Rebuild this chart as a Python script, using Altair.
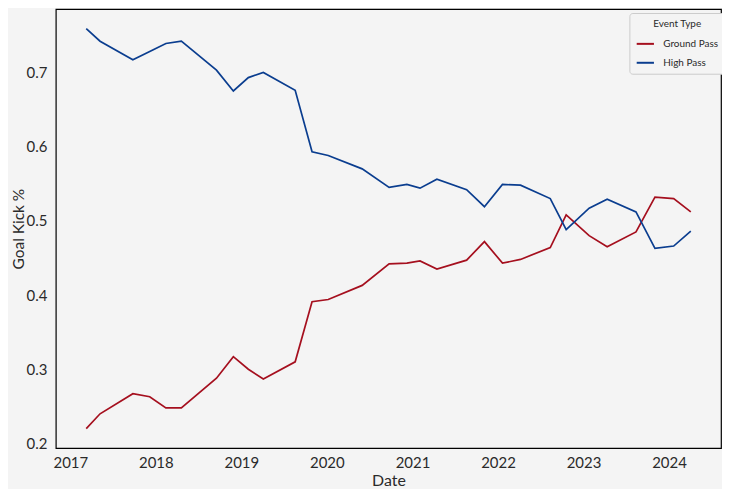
import altair as alt
import pandas as pd

dates = [
    "2017-03-10", "2017-05-08", "2017-09-25", "2017-12-06", "2018-02-13",
    "2018-04-20", "2018-09-17", "2018-11-28", "2019-01-31", "2019-04-05",
    "2019-08-19", "2019-10-30", "2020-01-07", "2020-05-31", "2020-09-23",
    "2020-12-08", "2021-02-02", "2021-04-15", "2021-08-20", "2021-11-04",
    "2022-01-20", "2022-04-07", "2022-08-12", "2022-10-19", "2023-01-25",
    "2023-04-12", "2023-08-13", "2023-11-02", "2024-01-21", "2024-04-03",
]
ground_pass = [
    0.220, 0.240, 0.267, 0.263, 0.248, 0.248, 0.288, 0.317, 0.300, 0.287,
    0.310, 0.391, 0.394, 0.413, 0.442, 0.443, 0.446, 0.435, 0.447, 0.472,
    0.443, 0.448, 0.464, 0.508, 0.480, 0.465, 0.485, 0.532, 0.530, 0.512,
]
high_pass = [
    0.759, 0.742, 0.717, 0.728, 0.739, 0.742, 0.703, 0.675, 0.693, 0.700,
    0.676, 0.593, 0.588, 0.570, 0.545, 0.549, 0.544, 0.556, 0.542, 0.519,
    0.549, 0.548, 0.530, 0.488, 0.517, 0.529, 0.512, 0.463, 0.466, 0.486,
]
series_names = ["Ground Pass", "High Pass"]
series_colors = ["#a50f1e", "#0a3d8f"]
year_ticks = [2017, 2018, 2019, 2020, 2021, 2022, 2023, 2024]

df = pd.DataFrame({
    "Date": pd.to_datetime(dates * 2),
    "Goal Kick %": ground_pass + high_pass,
    "Event Type": [series_names[0]] * len(dates) + [series_names[1]] * len(dates),
})

font = "Lato"
txt = "#2a2a2a"

chart = alt.Chart(df).mark_line(strokeWidth=1.7).encode(
    x=alt.X(
        "Date:T",
        scale=alt.Scale(domain=[alt.DateTime(year=2016, month=10, date=31),
                                alt.DateTime(year=2024, month=8, date=10)]),
        axis=alt.Axis(
            values=[alt.DateTime(year=y, month=1, date=1) for y in year_ticks],
            format="%Y", grid=False, ticks=False, domain=False,
            labelPadding=7, labelFontSize=15, labelColor=txt, labelFontWeight="normal",
            titleFontSize=16, titleColor=txt, titleFontWeight="normal",
            titleY=32, titleBaseline="middle", labelFlush=False,
        ),
    ),
    y=alt.Y(
        "Goal Kick %:Q",
        scale=alt.Scale(domain=[0.1937, 0.7854], nice=False, zero=False),
        axis=alt.Axis(
            values=[0.2, 0.3, 0.4, 0.5, 0.6, 0.7], format=".1f",
            grid=False, ticks=False, domain=False,
            labelPadding=9, labelFontSize=15, labelColor=txt, labelFontWeight="normal",
            titleFontSize=15.5, titleColor=txt, titleFontWeight="normal",
            titleX=-37, titleBaseline="middle",
        ),
    ),
    color=alt.Color(
        "Event Type:N",
        scale=alt.Scale(domain=series_names, range=series_colors),
        legend=alt.Legend(
            orient="none", legendX=576, legendY=4,
            title="Event Type", titleFontSize=10, titleFontWeight="normal",
            titleColor=txt, titleAnchor="middle", titleAlign="center",
            labelFontSize=10, labelColor=txt, labelFontWeight="normal",
            symbolType="stroke", symbolSize=300, symbolStrokeWidth=2,
            fillColor="#f4f4f4", strokeColor="#cccccc", cornerRadius=3,
            padding=6, rowPadding=4, labelOffset=8,
        ),
    ),
).properties(
    width=668, height=441,
    autosize=alt.AutoSizeParams(type="none"),
    padding={"left": 48, "top": 0, "right": 1, "bottom": 40},
    background="#f4f4f4",
).configure(
    font=font,
).configure_view(
    stroke="#000000", strokeWidth=1.2, fill="#f4f4f4",
)

chart.save("out.html", embed_options={"renderer": "svg", "actions": False})
